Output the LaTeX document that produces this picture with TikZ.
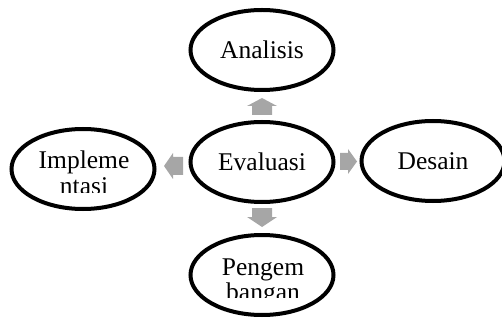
\documentclass[tikz,border=0pt]{standalone}
\usepackage{fontspec}
\setmainfont{Liberation Serif}
\usetikzlibrary{shapes.geometric}
\definecolor{arrowgray}{HTML}{A6A6A6}
\tikzset{
  phase/.style={ellipse,draw=black,line width=4pt,minimum width=143pt,
    minimum height=80pt,inner sep=0pt,
    font=\fontsize{25.5}{25}\selectfont},
  phasetext/.style={anchor=base,inner sep=0pt,
    font=\fontsize{25.5}{25}\selectfont}
}
\begin{document}
\begin{tikzpicture}[x=1pt,y=-1pt]
\useasboundingbox (0,0) rectangle (502,320);
% the five phases
\node[phase] (ana) at (262,50) {Analisis};
\node[phase] (eva) at (262,162) {Evaluasi};
\node[phase] (des) at (433,161) {Desain};
\node[phase] (imp) at (83,169) {};
\node[phase] (pen) at (262,275) {};
% texts that run out of their box
\begin{scope}
\clip (0,0) rectangle (502,192);
\node[phasetext] (impa) at (84,169) {Impleme};
\node[phasetext] (impb) at (84,194.5) {ntasi};
\end{scope}
\begin{scope}
\clip (0,0) rectangle (502,297);
\node[phasetext] (pena) at (263,275) {Pengem};
\node[phasetext] (penb) at (263,300) {bangan};
\end{scope}
% block arrows
\fill[arrowgray] (252,115) -- (252,106) -- (247,106) -- (262,98)
  -- (277,106) -- (272,106) -- (272,115) -- cycle;
\fill[arrowgray] (252,208) -- (252,217) -- (247,217) -- (262,227)
  -- (277,217) -- (272,217) -- (272,208) -- cycle;
\fill[arrowgray] (340,153) -- (348,153) -- (348,149) -- (357,161.5)
  -- (348,174) -- (348,170) -- (340,170) -- cycle;
\fill[arrowgray] (183,157) -- (173,157) -- (173,153) -- (164,166)
  -- (173,179) -- (173,175) -- (183,175) -- cycle;
\end{tikzpicture}
\end{document}
